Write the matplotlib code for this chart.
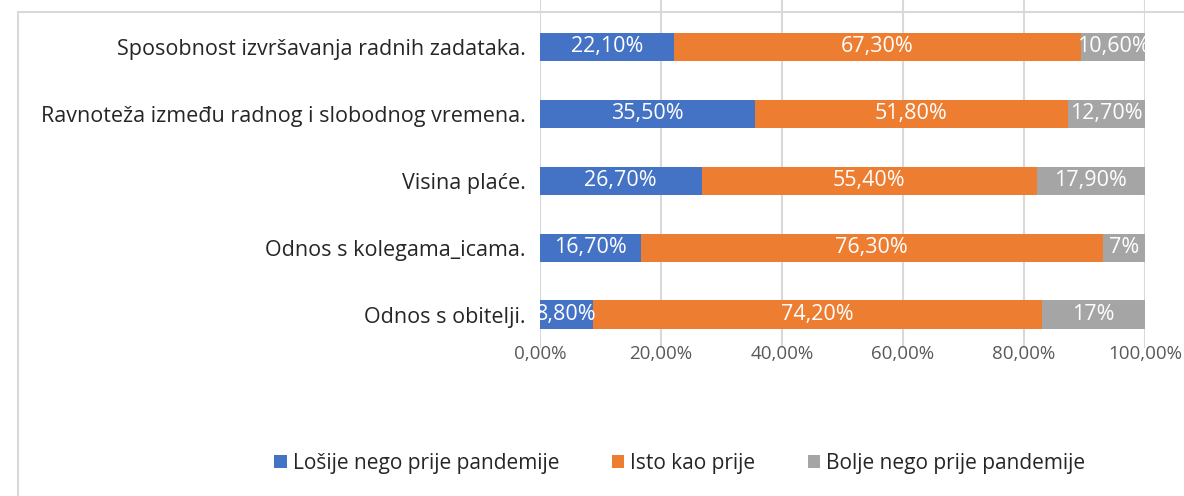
import matplotlib.pyplot as plt
from matplotlib.lines import Line2D
from matplotlib.patches import Patch

plt.rcParams['font.family'] = ['Open Sans', 'DejaVu Sans']

# podaci (od dna prema vrhu)
kategorije = ["Odnos s obitelji.", "Odnos s kolegama_icama.", "Visina plaće.",
              "Ravnoteža između radnog i slobodnog vremena.",
              "Sposobnost izvršavanja radnih zadataka."]
losije = [8.80, 16.70, 26.70, 35.50, 22.10]
isto = [74.20, 76.30, 55.40, 51.80, 67.30]
bolje = [17.0, 7.0, 17.90, 12.70, 10.60]

losije_txt = ["8,80%", "16,70%", "26,70%", "35,50%", "22,10%"]
isto_txt = ["74,20%", "76,30%", "55,40%", "51,80%", "67,30%"]
bolje_txt = ["17%", "7%", "17,90%", "12,70%", "10,60%"]

serije = ["Lošije nego prije pandemije", "Isto kao prije", "Bolje nego prije pandemije"]
boje = ["#4472C4", "#ED7D31", "#A5A5A5"]

fig = plt.figure(figsize=(11.84, 4.96), dpi=100)
ax = fig.add_axes([540 / 1184, 1 - 348 / 496, 605 / 1184, 348 / 496])

y = list(range(len(kategorije)))
h = 0.42
lijevo = [0] * len(y)
for vrijednosti, tekst, boja in [(losije, losije_txt, boje[0]),
                                 (isto, isto_txt, boje[1]),
                                 (bolje, bolje_txt, boje[2])]:
    bars = ax.barh(y, vrijednosti, left=lijevo, height=h, color=boja, zorder=3)
    for b, t in zip(bars, tekst):
        ax.text(b.get_x() + b.get_width() / 2, b.get_y() + h / 2, t,
                ha='center', va='center', color='white', fontsize=15.5, zorder=4)
    lijevo = [a + b for a, b in zip(lijevo, vrijednosti)]

ax.set_xlim(0, 100)
ax.set_ylim(-0.5, 4.7)
ax.set_xticks([0, 20, 40, 60, 80, 100])
ax.set_xticklabels(["0,00%", "20,00%", "40,00%", "60,00%", "80,00%", "100,00%"],
                   fontsize=13.5, color='#595959')
ax.set_yticks(y)
ax.set_yticklabels(kategorije, fontsize=15.5, color='#262626')
ax.tick_params(axis='both', length=0)
ax.tick_params(axis='y', pad=10)
ax.tick_params(axis='x', pad=-2)
ax.grid(axis='x', color='#D9D9D9', linewidth=1.5, zorder=0)
for s in ax.spines.values():
    s.set_visible(False)

handles = [Patch(facecolor=c, label=l) for c, l in zip(boje, serije)]
fig.legend(handles=handles, loc='center', bbox_to_anchor=(680 / 1184, 1 - 463 / 496),
           ncol=3, frameon=False, fontsize=15, handlelength=0.6, handleheight=0.6,
           handletextpad=0.3, columnspacing=2.5, labelcolor='#262626')

# okvir grafikona
fig.add_artist(Line2D([18 / 1184, 18 / 1184], [0, 1 - 12 / 496], color='#D9D9D9', lw=1.5))
fig.add_artist(Line2D([18 / 1184, 1], [1 - 12 / 496, 1 - 12 / 496], color='#D9D9D9', lw=1.5))

fig.savefig("out.png", dpi=100, facecolor='white')
